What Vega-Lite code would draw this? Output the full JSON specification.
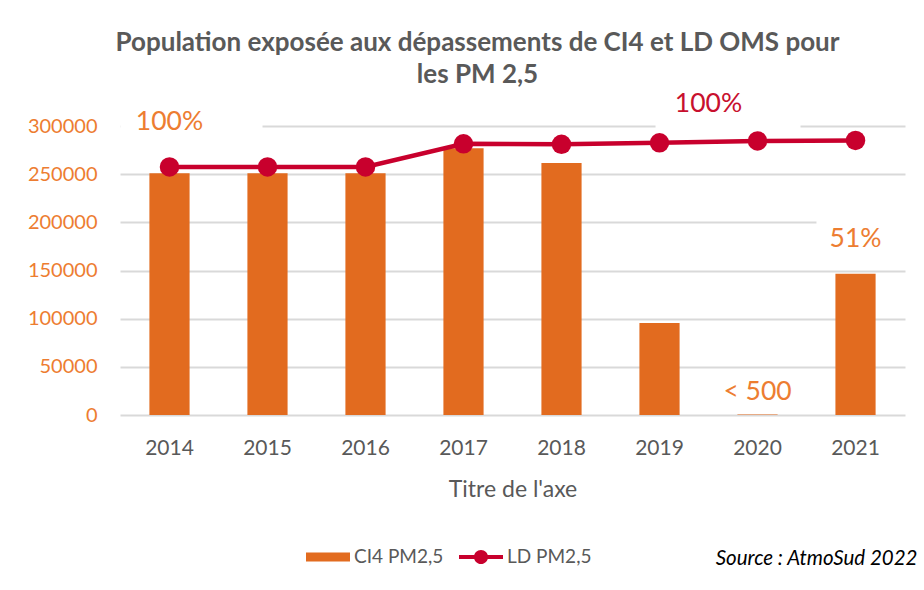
{
  "$schema": "https://vega.github.io/schema/vega-lite/v6.json",
  "autosize": "none",
  "padding": {"left": 120, "top": 126, "right": 19, "bottom": 175},
  "width": 785,
  "height": 289,
  "background": "white",
  "config": {
    "font": "Lato",
    "view": {"stroke": null}
  },
  "title": {
    "text": ["Population exposée aux dépassements de CI4 et LD OMS pour", "les PM 2,5"],
    "anchor": "middle",
    "dx": -35,
    "offset": 0,
    "fontSize": 26,
    "fontWeight": "bold",
    "color": "#595959",
    "lineHeight": 32,
    "font": "Lato"
  },
  "data": {
    "values": [
      {"annee": "2014", "serie": "CI4 PM2,5", "valeur": 251000},
      {"annee": "2015", "serie": "CI4 PM2,5", "valeur": 251000},
      {"annee": "2016", "serie": "CI4 PM2,5", "valeur": 251000},
      {"annee": "2017", "serie": "CI4 PM2,5", "valeur": 277000},
      {"annee": "2018", "serie": "CI4 PM2,5", "valeur": 261500},
      {"annee": "2019", "serie": "CI4 PM2,5", "valeur": 95500},
      {"annee": "2020", "serie": "CI4 PM2,5", "valeur": 400},
      {"annee": "2021", "serie": "CI4 PM2,5", "valeur": 146500},
      {"annee": "2014", "serie": "LD PM2,5", "valeur": 257500},
      {"annee": "2015", "serie": "LD PM2,5", "valeur": 257500},
      {"annee": "2016", "serie": "LD PM2,5", "valeur": 257500},
      {"annee": "2017", "serie": "LD PM2,5", "valeur": 281500},
      {"annee": "2018", "serie": "LD PM2,5", "valeur": 281000},
      {"annee": "2019", "serie": "LD PM2,5", "valeur": 282500},
      {"annee": "2020", "serie": "LD PM2,5", "valeur": 284500},
      {"annee": "2021", "serie": "LD PM2,5", "valeur": 285000}
    ]
  },
  "resolve": {"axis": {"x": "independent"}},
  "layer": [
    {
      "transform": [{"filter": "datum.serie === 'CI4 PM2,5'"}],
      "mark": {"type": "bar"},
      "encoding": {
        "x": {
          "field": "annee", "type": "ordinal",
          "scale": {"paddingInner": 0.59, "paddingOuter": 0.3},
          "axis": {
            "title": "Titre de l'axe",
            "titleFontSize": 23, "titleColor": "#595959", "titleFontWeight": "normal", "titlePadding": 20,
            "labelFontSize": 21, "labelColor": "#595959", "labelAngle": 0, "labelPadding": 22,
            "ticks": false, "domain": false, "grid": false
          }
        },
        "y": {
          "field": "valeur", "type": "quantitative",
          "scale": {"domain": [0, 300000], "nice": false},
          "axis": {
            "title": null,
            "values": [0, 50000, 100000, 150000, 200000, 250000, 300000],
            "format": "d",
            "labelFontSize": 20, "labelColor": "#ED7D31", "labelPadding": 23,
            "ticks": false, "domain": false,
            "grid": true, "gridColor": "#D9D9D9", "gridWidth": 2
          }
        },
        "color": {
          "field": "serie", "type": "nominal",
          "scale": {"domain": ["CI4 PM2,5", "LD PM2,5"], "range": ["#E26B1F", "#C8002D"]},
          "legend": {
            "title": null,
            "orient": "none",
            "direction": "horizontal",
            "legendX": 186,
            "legendY": 409,
            "symbolSize": 1936,
            "labelFontSize": 19,
            "labelColor": "#595959",
            "labelOffset": 4,
            "columnPadding": 15,
            "labelLimit": 300,
            "encode": {
              "symbols": {
                "update": {
                  "shape": {"signal": "datum.value === 'CI4 PM2,5' ? 'M-1,-0.2H1V0.2H-1Z' : 'M-1,-0.09H1V0.09H-1Z M0.32,0A0.32,0.32 0 1,1 -0.32,0A0.32,0.32 0 1,1 0.32,0Z'"},
                  "fill": {"signal": "datum.value === 'CI4 PM2,5' ? '#E26B1F' : '#C8002D'"},
                  "fillOpacity": {"value": 1},
                  "strokeWidth": {"value": 0},
                  "opacity": {"value": 1}
                }
              }
            }
          }
        }
      }
    },
    {
      "data": {"values": [{"annee": "2014", "valeur": 304000, "etiquette": "100%"}]},
      "encoding": {
        "x": {"field": "annee", "type": "ordinal", "axis": null},
        "y": {"field": "valeur", "type": "quantitative"}
      },
      "layer": [
        {"mark": {"type": "point", "shape": "M-0.69,-0.225H1.31V0.225H-0.69Z", "size": 20164, "filled": true, "color": "white", "opacity": 1, "strokeWidth": 0}},
        {
          "mark": {"type": "text", "fontSize": 26.5, "color": "#ED7D31", "baseline": "middle", "align": "center"},
          "encoding": {"text": {"field": "etiquette"}}
        }
      ]
    },
    {
      "data": {"values": [{"annee": "2019", "valeur": 323000, "etiquette": "100%"}]},
      "encoding": {
        "x": {"field": "annee", "type": "ordinal", "axis": null},
        "y": {"field": "valeur", "type": "quantitative"}
      },
      "layer": [
        {"mark": {"type": "point", "shape": "M-0.056,-0.225H1.986V0.366H-0.056Z", "size": 20164, "filled": true, "color": "white", "opacity": 1, "strokeWidth": 0}},
        {
          "mark": {"type": "text", "fontSize": 26.5, "color": "#C8102E", "baseline": "middle", "align": "center", "dx": 49},
          "encoding": {"text": {"field": "etiquette"}}
        }
      ]
    },
    {
      "data": {"values": [{"annee": "2021", "valeur": 182700, "etiquette": "51%"}]},
      "encoding": {
        "x": {"field": "annee", "type": "ordinal", "axis": null},
        "y": {"field": "valeur", "type": "quantitative"}
      },
      "layer": [
        {"mark": {"type": "point", "shape": "M-0.55,-0.338H0.76V0.31H-0.55Z", "size": 20164, "filled": true, "color": "white", "opacity": 1, "strokeWidth": 0}},
        {
          "mark": {"type": "text", "fontSize": 26.5, "color": "#ED7D31", "baseline": "middle", "align": "center"},
          "encoding": {"text": {"field": "etiquette"}}
        }
      ]
    },
    {
      "transform": [{"filter": "datum.serie === 'LD PM2,5'"}],
      "mark": {"type": "line", "strokeWidth": 4.5, "point": {"filled": true, "size": 380}},
      "encoding": {
        "x": {"field": "annee", "type": "ordinal", "axis": null},
        "y": {"field": "valeur", "type": "quantitative"},
        "color": {"field": "serie", "type": "nominal"}
      }
    },
    {
      "data": {"values": [{"annee": "2020", "valeur": 23900, "etiquette": "< 500"}]},
      "mark": {"type": "text", "fontSize": 26.5, "color": "#ED7D31", "baseline": "middle", "align": "center"},
      "encoding": {
        "x": {
          "field": "annee", "type": "ordinal",
          "axis": {
            "orient": "bottom",
            "labels": false, "ticks": false, "domain": false, "grid": false,
            "title": "Source : AtmoSud 2022",
            "titleFontSize": 20.5, "titleFontStyle": "italic", "titleFontWeight": "normal", "titleColor": "#000000",
            "titleAlign": "right", "titleBaseline": "middle", "titleX": 797, "titleY": 143
          }
        },
        "y": {"field": "valeur", "type": "quantitative"},
        "text": {"field": "etiquette"}
      }
    }
  ]
}
